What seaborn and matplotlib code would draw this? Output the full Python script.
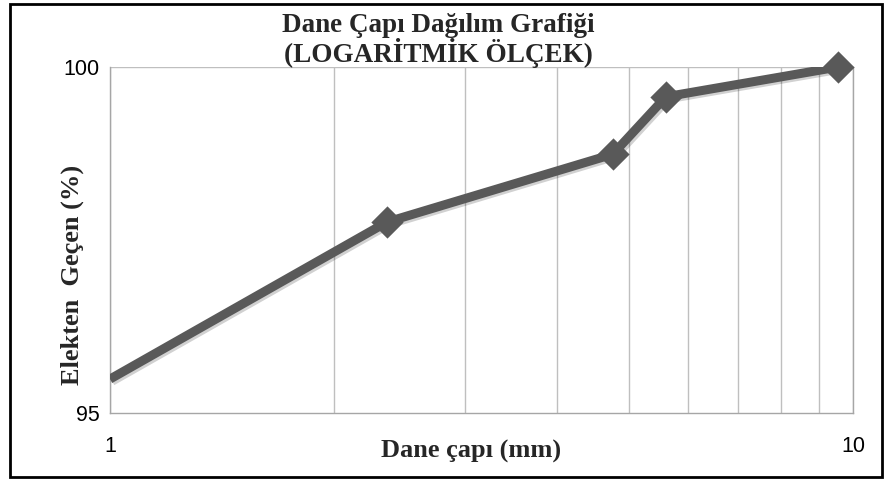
import matplotlib
matplotlib.use('Agg')
import matplotlib.pyplot as plt
import matplotlib.patheffects as pe
from matplotlib.patches import Rectangle
from matplotlib.ticker import FixedLocator, NullFormatter
import pandas as pd
import seaborn as sns

# values
dane_capi = [1.0, 2.36, 4.75, 5.6, 9.55]
elekten_gecen = [95.49, 97.76, 98.74, 99.57, 100.0]
x_ticks = [1, 10]
y_ticks = [95, 100]

title = 'Dane Çapı Dağılım Grafiği\n(LOGARİTMİK ÖLÇEK)'
x_label = 'Dane çapı (mm)'
y_label = 'Elekten  Geçen (%)'

sns.set_style('white')
plt.rcParams['font.family'] = ['Liberation Sans', 'DejaVu Sans']

df = pd.DataFrame({'x': dane_capi, 'y': elekten_gecen})

fig = plt.figure(figsize=(8.87, 4.8), dpi=100)
ax = fig.add_axes([0.124, 0.1396, 0.8377, 0.7208])

gray = '#595959'
line_shadow = [pe.SimpleLineShadow(offset=(1.5, -1.5), alpha=0.18), pe.Normal()]

sns.lineplot(data=df, x='x', y='y', ax=ax, color=gray, linewidth=6.5,
             solid_capstyle='butt', path_effects=line_shadow, zorder=3)
sns.scatterplot(data=df.iloc[1:], x='x', y='y', ax=ax, color=gray, marker='D',
                s=270, edgecolor=gray, linewidth=0, zorder=4, clip_on=False)

ax.set_xscale('log')
ax.set_xlim(1, 10)
ax.set_ylim(95, 100)
ax.xaxis.set_minor_locator(FixedLocator([2, 3, 4, 5, 6, 7, 8, 9]))
ax.xaxis.set_minor_formatter(NullFormatter())
ax.set_xticks(x_ticks)
ax.set_xticklabels([str(t) for t in x_ticks])
ax.set_yticks(y_ticks)
ax.set_yticklabels([str(t) for t in y_ticks])

ax.grid(True, axis='x', which='both', color='#bfbfbf', linewidth=1)
ax.grid(False, axis='y')
ax.axhline(100, color='#bfbfbf', linewidth=1, zorder=1)

for side in ['left', 'bottom', 'right', 'top']:
    ax.spines[side].set_color('#a6a6a6')
    ax.spines[side].set_linewidth(1)
ax.spines['top'].set_visible(False)

ax.tick_params(axis='both', which='major', labelsize=15.5, colors='black',
               length=6, width=1, direction='out')
ax.tick_params(axis='x', which='major', pad=10.5, color='#a6a6a6')
ax.tick_params(axis='y', which='major', pad=1.5, color='#a6a6a6')
ax.tick_params(axis='x', which='minor', length=0)

ax.set_xlabel(x_label, fontsize=19, fontweight='bold', family='Liberation Serif',
              va='center')
ax.xaxis.set_label_coords(0.486, -0.11)
ax.set_ylabel(y_label, fontsize=19, fontweight='bold', family='Liberation Serif',
              va='center')
ax.yaxis.set_label_coords(-0.051, 0.40)

fig.text(0.494, 0.916, title, ha='center', va='center', fontsize=19.5,
         fontweight='bold', family='Liberation Serif', linespacing=1.0)

fig.patches.append(Rectangle((0.011, 0.006), 0.983, 0.985, transform=fig.transFigure,
                             fill=False, edgecolor='black', linewidth=2))

plt.savefig('out.png', dpi=100)
